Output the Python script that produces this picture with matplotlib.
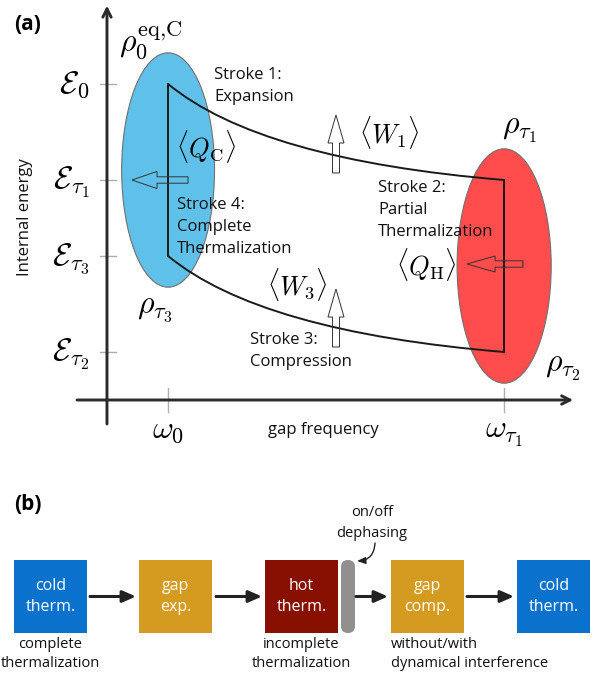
import matplotlib
matplotlib.use("Agg")
import matplotlib.pyplot as plt
from matplotlib.patches import Ellipse, FancyArrow, PathPatch, Rectangle, FancyBboxPatch
from matplotlib.path import Path

plt.rcParams['mathtext.fontset'] = 'cm'
plt.rcParams['font.family'] = ['Open Sans', 'DejaVu Sans']

# ---------------- data: panel (a) ----------------
freq_values = [1.0, 6.5]                       # omega_0, omega_tau1
freq_labels = [r'$\omega_0$', r'$\omega_{\tau_1}$']
energy_values = [3.95, 2.75, 1.8, 0.6]         # E_0, E_tau1, E_tau3, E_tau2
energy_labels = [r'$\mathcal{E}_0$', r'$\mathcal{E}_{\tau_1}$',
                 r'$\mathcal{E}_{\tau_3}$', r'$\mathcal{E}_{\tau_2}$']
stroke_labels = ['Stroke 1:\nExpansion', 'Stroke 2:\nPartial\nThermalization',
                 'Stroke 3:\nCompression', 'Stroke 4:\nComplete\nThermalization']
# ---------------- data: panel (b) ----------------
box_labels = ['cold\ntherm.', 'gap\nexp.', 'hot\ntherm.', 'gap\ncomp.', 'cold\ntherm.']
box_colors = ['#0a72cc', '#d49b20', '#871000', '#d49b20', '#0a72cc']
below_labels = ['complete\nthermalization', '', 'incomplete\nthermalization',
                'without/with\ndynamical interference', '']

W, H = 603, 675
fig = plt.figure(figsize=(W / 100, H / 100), dpi=100)


def fpx(x, y):
    return (x / W, 1 - y / H)


# panel (a) axes: 1 unit = 61.1 px in x, 80 px in y, origin at px (107, 400)
ax = fig.add_axes([0, 1 - 460 / H, 1, 460 / H])
ax.set_xlim(-1.751, 8.118)
ax.set_ylim(-0.75, 5.0)
ax.axis('off')

w0, w1 = freq_values
E0, Et1, Et3, Et2 = energy_values

# ellipses (states)
pad = 0.39
ax.add_patch(Ellipse((w0, (E0 + Et3) / 2), 1.52, E0 - Et3 + 2 * pad,
                     facecolor='#5fc0ea', edgecolor='#707070', lw=0.8, zorder=1))
ax.add_patch(Ellipse((w1, (Et1 + Et2) / 2), 1.54, Et1 - Et2 + 2 * pad,
                     facecolor='#ff4c4c', edgecolor='#707070', lw=0.8, zorder=1))


def stroke_curve(p0, p2):
    cx = p0[0] + 0.273 * (p2[0] - p0[0])
    cy = p2[1] + 0.21 * (p0[1] - p2[1])
    return Path([p0, (cx, cy), p2], [Path.MOVETO, Path.CURVE3, Path.CURVE3])


# cycle
ax.add_patch(PathPatch(stroke_curve((w0, E0), (w1, Et1)), fill=False, lw=1.4,
                       edgecolor='#1a1a1a', zorder=3))
ax.add_patch(PathPatch(stroke_curve((w0, Et3), (w1, Et2)), fill=False, lw=1.4,
                       edgecolor='#1a1a1a', zorder=3))
ax.plot([w1, w1], [Et1, Et2], color='#1a1a1a', lw=1.4, zorder=3)
ax.plot([w0, w0], [Et3, E0], color='#1a1a1a', lw=1.4, zorder=3)

# axes with arrows
ax.annotate('', xy=(0, 4.93), xytext=(0, -0.3),
            arrowprops=dict(arrowstyle='->,head_length=0.6,head_width=0.3',
                            lw=2.1, color='#2a2a2a', shrinkA=0, shrinkB=0))
ax.annotate('', xy=(7.63, 0), xytext=(-0.49, 0),
            arrowprops=dict(arrowstyle='->,head_length=0.6,head_width=0.3',
                            lw=2.1, color='#2a2a2a', shrinkA=0, shrinkB=0))

# ticks and tick labels
for e, lab in zip(energy_values, energy_labels):
    ax.plot([-0.115, 0.15], [e, e], color='#b0b0b0', lw=1.0, zorder=0)
    ax.text(-0.29, e - 0.11, lab, fontsize=23, ha='right', va='baseline')
for f, lab in zip(freq_values, freq_labels):
    ax.plot([f, f], [0.15, -0.15], color='#b0b0b0', lw=1.0, zorder=0)
    ax.text(f, -0.47, lab, fontsize=23, ha='center', va='baseline')

# hollow arrows (heat and work)
akw = dict(fill=False, edgecolor='#333333', lw=0.7, length_includes_head=True, zorder=4)
ax.add_patch(FancyArrow(1.326, Et1, -0.917, 0, width=0.08, head_width=0.215,
                        head_length=0.41, **akw))
ax.add_patch(FancyArrow(6.808, 1.70, -0.916, 0, width=0.08, head_width=0.2,
                        head_length=0.46, **akw))
ax.add_patch(FancyArrow(3.748, 2.8375, 0, 0.725, width=0.115, head_width=0.262,
                        head_length=0.35, **akw))
ax.add_patch(FancyArrow(3.748, 0.6625, 0, 0.725, width=0.115, head_width=0.262,
                        head_length=0.35, **akw))


def ftext(x, y, s, **kw):
    fig.text(*fpx(x, y), s, **kw)


# math labels (figure pixel positions)
ftext(119, 52, r'$\rho_0^{\mathrm{eq{,}C}}$', fontsize=23, ha='left', va='baseline')
ftext(502, 134, r'$\rho_{\tau_1}$', fontsize=23, ha='left', va='baseline')
ftext(545, 372, r'$\rho_{\tau_2}$', fontsize=23, ha='left', va='baseline')
ftext(137, 313, r'$\rho_{\tau_3}$', fontsize=23, ha='left', va='baseline')
ftext(176, 157, r'$\langle Q_{\mathrm{C}}\rangle$', fontsize=19, ha='left', va='baseline')
ftext(396, 275, r'$\langle Q_{\mathrm{H}}\rangle$', fontsize=19, ha='left', va='baseline')
ftext(359, 143, r'$\langle W_1\rangle$', fontsize=19, ha='left', va='baseline')
ftext(267, 295, r'$\langle W_3\rangle$', fontsize=19, ha='left', va='baseline')

# stroke labels
skw = dict(fontsize=12, ha='left', va='top', linespacing=1.52, color='#111111')
ftext(214, 67, stroke_labels[0], **skw)
ftext(378, 180, stroke_labels[1], **skw)
ftext(250, 332, stroke_labels[2], **skw)
ftext(177, 197, stroke_labels[3], **skw)

ftext(268, 430, 'gap frequency', fontsize=12, ha='left', va='center', color='#111111')
ftext(25, 217, 'Internal energy', fontsize=12, ha='center', va='center',
      rotation=90, color='#111111')

ftext(14, 25, '(a)', fontsize=15, fontweight='bold', ha='left', va='center')
ftext(14, 505, '(b)', fontsize=15, fontweight='bold', ha='left', va='center')

# ---------------- panel (b) ----------------
bx = fig.add_axes([0, 0, 1, (H - 460) / H])
bx.set_xlim(0, W)
bx.set_ylim(H, 460)
bx.axis('off')

box_left = [14, 139, 265, 391, 517]
bw, btop, bh = 73, 560, 73
ymid = btop + bh / 2
for x0, lab, col, below in zip(box_left, box_labels, box_colors, below_labels):
    bx.add_patch(Rectangle((x0, btop), bw, bh, facecolor=col, edgecolor='none'))
    bx.text(x0 + bw / 2, ymid, lab, color='white', fontsize=11.5, ha='center',
            va='center', linespacing=1.45)
    if below:
        if below.startswith('without'):
            bx.text(x0, 637, below, fontsize=10.5, ha='left', va='top',
                    linespacing=1.38, color='#111111')
        else:
            bx.text(x0 + bw / 2, 637, below, fontsize=10.5, ha='center', va='top',
                    linespacing=1.38, color='#111111')

# dephasing pill
bx.add_patch(FancyBboxPatch((348, 567), 0, 59, boxstyle='round,pad=7',
                            facecolor='#938f8f', edgecolor='none'))

arrow_pairs = [(90, 136), (216, 262), (356, 388), (467, 514)]
for xa, xb in arrow_pairs:
    bx.annotate('', xy=(xb, ymid), xytext=(xa, ymid),
                arrowprops=dict(arrowstyle='-|>,head_length=0.8,head_width=0.35',
                                lw=2.2, color='#222222', shrinkA=0, shrinkB=0))

bx.text(372, 523, 'on/off\ndephasing', fontsize=10.5, ha='center', va='center',
        linespacing=1.5, color='#111111')
bx.annotate('', xy=(357, 561), xytext=(375, 543),
            arrowprops=dict(arrowstyle='-|>,head_length=0.5,head_width=0.2',
                            lw=1.0, color='#222222', shrinkA=0, shrinkB=0,
                            connectionstyle='arc3,rad=-0.45'))

fig.savefig('out.png', dpi=100)
